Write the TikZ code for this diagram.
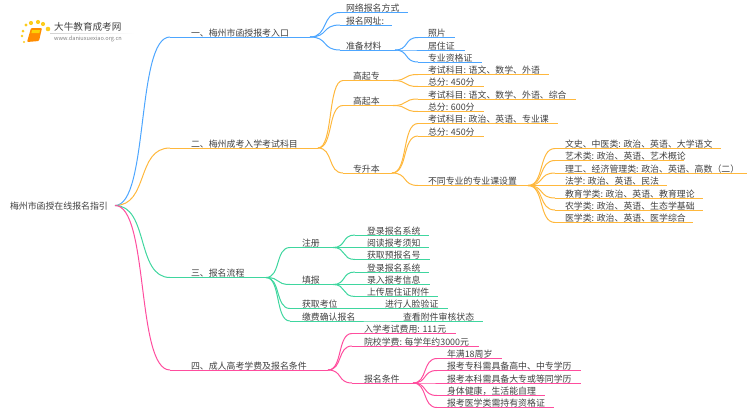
\documentclass[tikz,border=0pt]{standalone}
\usepackage{fontspec}
\setmainfont{Noto Sans CJK SC}
\usetikzlibrary{calc}
\definecolor{bluebranch}{HTML}{4DA6FF}
\definecolor{orangebranch}{HTML}{FFB83D}
\definecolor{greenbranch}{HTML}{3FD69F}
\definecolor{pinkbranch}{HTML}{FF4D9E}
\definecolor{inktext}{HTML}{404040}
\tikzset{
    blueline/.style={draw=bluebranch},
    orangeline/.style={draw=orangebranch},
    greenline/.style={draw=greenbranch},
    pinkline/.style={draw=pinkbranch},
    topic/.style={anchor=south west, inner sep=0pt, outer sep=0pt, text height=8pt, text depth=1pt, font=\fontsize{8.9}{10}\selectfont, text=inktext}
}
% curve from one underline to the next
\newcommand{\linkto}[3]{\draw[#1, line width=1pt] let \p1=(#2), \p2=(#3), \n1={.62*(\x2-\x1)} in (\p1) .. controls +(\n1,0) and +(-\n1,0) .. (\p2);}
\begin{document}
\begin{tikzpicture}[x=1pt,y=-1pt]
    \useasboundingbox (0,0) rectangle (750,410);
    % logo
    \foreach \ptx/\pty/\rad in {23/31/1.5, 26/25/1.7, 31/23/2.1, 38/22/2.1, 43/24/2.1, 48/29/2.3, 22/36/1.3, 24/42/1.1}
        \fill[yellow!60!orange!90] (\ptx,\pty) circle [radius=\rad pt];
    \fill[orange!90!yellow, rounded corners=1pt] (31,28) -- (42,28) -- (39,41) -- (27,42) -- cycle;
    \fill[yellow!70!orange] (32,30) -- (40,30) -- (39.4,33) -- (31.4,33) -- cycle;
    \fill[left color=gray!35, right color=white, draw=none] (50,33) rectangle (134,33.6);
    \node[inner sep=0pt, anchor=west, text=inktext, font=\fontsize{9.6}{11}\selectfont] (logoname) at (54,27) {大牛教育成考网};
    \node[inner sep=0pt, anchor=west, text=gray, font=\fontsize{5.6}{7}\selectfont] (logourl) at (54,38.5) {www.daniuxuexiao.org.cn};
    % root
    \node[topic, anchor=west] (root) at (10,205.5) {\hbox to 105pt{梅州市函授在线报名指引\hss}};
    % first level
    \foreach \col/\nm/\xa/\xb/\yy/\txt in {
        blueline/entry/170/310/37/一、梅州市函授报考入口,
        orangeline/subject/170/318/148/二、梅州成考入学考试科目,
        greenline/flow/170/266/277.5/三、报名流程,
        pinkline/fee/170/328/370/四、成人高考学费及报名条件}
    {
        \pgfmathsetmacro{\barlen}{\xb-\xa}
        \node[topic] (\nm) at (\xa,\yy) {\hbox to \barlen pt{\hspace*{21pt}\txt\hss}};
        \draw[\col, line width=1pt] (\nm.south west) -- (\nm.south east);
        \linkto{\col}{root.east}{\nm.south west}
    }
    % all other levels, parents first
    \foreach \col/\nm/\up/\xa/\xb/\yy/\pad/\txt in {
        blueline/netway/entry/340/408/12.5/6/网络报名方式,
        blueline/netsite/entry/340/392/25/6/报名网址:,
        blueline/prepare/entry/340/395/50/6/准备材料,
        blueline/photo/prepare/418/455/37.5/10/照片,
        blueline/permit/prepare/418/465/50/10/居住证,
        blueline/cert/prepare/418/482/62/10/专业资格证,
        orangeline/gqz/subject/343/393/80.5/10/高起专,
        orangeline/gqb/subject/343/393/105.5/10/高起本,
        orangeline/zsb/subject/343/392/173/10/专升本,
        orangeline/gqzsub/gqz/418/549/74.5/10/考试科目: 语文、数学、外语,
        orangeline/gqzsum/gqz/418/484/86.5/10/总分: 450分,
        orangeline/gqbsub/gqb/418/576/99/10/考试科目: 语文、数学、外语、综合,
        orangeline/gqbsum/gqb/418/484/111.5/10/总分: 600分,
        orangeline/zsbsub/zsb/418/558/123.5/10/考试科目: 政治、英语、专业课,
        orangeline/zsbsum/zsb/418/484/136/10/总分: 450分,
        orangeline/major/zsb/418/528/185.5/10/不同专业的专业课设置,
        orangeline/wenshi/major/555/721/148.5/10/文史、中医类: 政治、英语、大学语文,
        orangeline/yishu/major/555/684/160.5/10/艺术类: 政治、英语、艺术概论,
        orangeline/ligong/major/555/747/173/10/理工、经济管理类: 政治、英语、高数（二）,
        orangeline/faxue/major/555/667/185.5/10/法学: 政治、英语、民法,
        orangeline/jiaoyu/major/555/703/198/10/教育学类: 政治、英语、教育理论,
        orangeline/nongxue/major/555/703/210/10/农学类: 政治、英语、生态学基础,
        orangeline/yixue/major/555/693/222.5/10/医学类: 政治、英语、医学综合,
        greenline/signup/flow/290/333/247.5/12/注册,
        greenline/fillin/flow/290/333/284.5/12/填报,
        greenline/seat/flow/290/345/308.5/12/获取考位,
        greenline/payconf/flow/290/362/321/12/缴费确认报名,
        greenline/login/signup/355/429/235/12/登录报名系统,
        greenline/notice/signup/355/429/247.5/12/阅读报考须知,
        greenline/preno/signup/355/430/259.5/12/获取预报名号,
        greenline/loginb/fillin/355/429/272/12/登录报名系统,
        greenline/record/fillin/355/430/284.5/12/录入报考信息,
        greenline/upload/fillin/355/438/296.5/12/上传居住证附件,
        greenline/face/seat/375/448/308.5/10/进行人脸验证,
        greenline/audit/payconf/393/483/321/10/查看附件审核状态,
        pinkline/examfee/fee/352/456/333.5/12/入学考试费用: 111元,
        pinkline/tuition/fee/352/479/346/12/院校学费: 每学年约3000元,
        pinkline/cond/fee/352/413/383/12/报名条件,
        pinkline/age/cond/437/502/358.5/10/年满18周岁,
        pinkline/junior/cond/437/581/370.5/10/报考专科需具备高中、中专学历,
        pinkline/senior/cond/437/581/383/10/报考本科需具备大专或等同学历,
        pinkline/health/cond/437/545/395.5/10/身体健康，生活能自理,
        pinkline/medical/cond/437/554/407.5/10/报考医学类需持有资格证}
    {
        \pgfmathsetmacro{\barlen}{\xb-\xa}
        \node[topic] (\nm) at (\xa,\yy) {\hbox to \barlen pt{\hspace*{\pad pt}\txt\hss}};
        \draw[\col, line width=1pt] (\nm.south west) -- (\nm.south east);
        \linkto{\col}{\up.south east}{\nm.south west}
    }
\end{tikzpicture}
\end{document}
